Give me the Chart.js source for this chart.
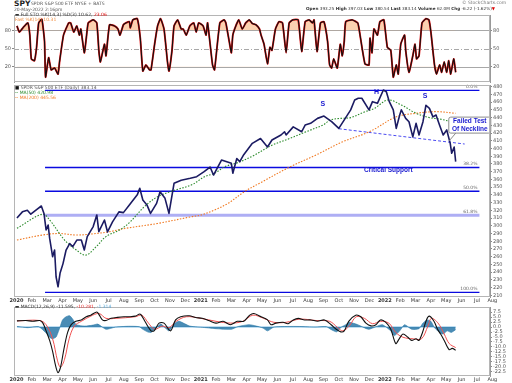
<!DOCTYPE html>
<html>
<head>
<meta charset="utf-8">
<script src="https://cdn.jsdelivr.net/npm/chart.js@4.4.0/dist/chart.umd.min.js"></script>
<style>
  body { margin: 0; background: #fff; }
  #wrap { position: relative; width: 512px; height: 383px; overflow: hidden; }
  canvas { position: absolute; left: 0; }
  .t { position: absolute; font-family: "DejaVu Sans", sans-serif; white-space: nowrap; line-height: 1; color: #555; font-size: 4.5px; }
</style>
</head>
<body>
<div id="wrap">
  <canvas id="stoch" width="512" height="75" style="top:11px"></canvas>
  <canvas id="price" width="512" height="224" style="top:80px"></canvas>
  <canvas id="macd" width="512" height="80" style="top:303px"></canvas>

  <div class="t" style="left:14px;top:0px;font-size:7.5px;font-weight:bold;color:#222">SPY</div>
  <div class="t" style="left:31px;top:2px">SPDR S&amp;P 500 ETF NYSE + BATS</div>
  <div class="t" style="left:14px;top:7.5px">20-May-2022 2:16pm</div>
  <div class="t" style="left:462px;top:1px;color:#777">© StockCharts.com</div>
  <div class="t" style="left:306px;top:7px;font-size:4.2px;color:#333"><b>Open</b> 393.25 <b>High</b> 397.03 <b>Low</b> 380.54 <b>Last</b> 383.14 <b>Volume</b> 62.0M <b>Chg</b> -6.22 (-1.62%)<span style="color:#d00">▼</span></div>
  <div class="t" style="left:15px;top:12.5px;color:#333">▬ Full STO %K(14,3) %D(3) 10.62, <span style="color:#e00000">23.06</span></div>
  <div class="t" style="left:15px;top:17.5px;color:#f08a3a">Fast %K(14) 10.31</div>
  <div class="t" style="left:15px;top:86px;color:#555"><span style="color:#111">■</span> SPDR S&amp;P 500 ETF (Daily) 383.14</div>
  <div class="t" style="left:15px;top:91px;color:#2a8a2a">-- MA(50) 420.98</div>
  <div class="t" style="left:15px;top:95.5px;color:#f07820">-- MA(200) 445.56</div>
  <div class="t" style="left:15px;top:304.5px;color:#333">▬ MACD(12,26,9) -11.595, <span style="color:#e83030">-10.281</span>, <span style="color:#5aa8d8">-1.314</span></div>
</div>

<script>
// ---- data ----
const xTickLabels = ["2020","Feb","Mar","Apr","May","Jun","Jul","Aug","Sep","Oct","Nov","Dec",
  "2021","Feb","Mar","Apr","May","Jun","Jul","Aug","Sep","Oct","Nov","Dec",
  "2022","Feb","Mar","Apr","May","Jun","Jul","Aug"];

const priceDates = ["2020-01-02","2020-01-13","2020-01-23","2020-01-30","2020-02-10","2020-02-19","2020-02-24","2020-02-28",
  "2020-03-03","2020-03-06","2020-03-12","2020-03-16","2020-03-19","2020-03-23","2020-03-27","2020-04-02","2020-04-08",
  "2020-04-15","2020-04-21","2020-04-29","2020-05-08","2020-05-14","2020-05-20","2020-06-01","2020-06-08","2020-06-12",
  "2020-06-23","2020-06-29","2020-07-09","2020-07-22","2020-07-31","2020-08-12","2020-08-28","2020-09-02","2020-09-08",
  "2020-09-16","2020-09-23","2020-10-05","2020-10-12","2020-10-22","2020-10-30","2020-11-09","2020-11-23","2020-12-11",
  "2020-12-24","2021-01-08","2021-01-20","2021-01-27","2021-02-11","2021-03-01","2021-03-04","2021-03-12","2021-03-18",
  "2021-03-26","2021-04-12","2021-04-28","2021-05-12","2021-05-21","2021-06-08","2021-06-15","2021-06-18","2021-07-02",
  "2021-07-19","2021-07-26","2021-08-06","2021-08-20","2021-09-02","2021-09-17","2021-10-01","2021-10-14","2021-10-25",
  "2021-11-02","2021-11-09","2021-11-16","2021-11-30","2021-12-07","2021-12-17","2021-12-29","2022-01-04","2022-01-10",
  "2022-01-18","2022-01-24","2022-01-31","2022-02-03","2022-02-11","2022-02-17","2022-02-24","2022-03-02","2022-03-08",
  "2022-03-16","2022-03-22","2022-03-29","2022-04-05","2022-04-11","2022-04-18","2022-04-25","2022-05-02","2022-05-09",
  "2022-05-12","2022-05-17","2022-05-20"];
const priceValues = [310,318,320,315,321,325.6,316,294.5,
  301,284,260,268.6,234,221,238.5,251,268.6,
  277,273,281.5,281.5,268.6,286,299,314,292.3,
  307.5,292,305,318,317,327,340,348.5,333.3,
  327,316,329,344,335.5,316,355,359,361.4,
  363.5,370,376,365.7,385,380.8,368,387,383,
  392,406.7,413,402,411,417.5,421.7,417.5,428,
  421.7,430.4,432.6,439,442,434.7,426,439,450,
  462.8,465,465,450,460.6,458.5,475.7,473.5,460.6,
  450,426,443.4,450,439,434.7,415,432.6,417.5,
  434.7,456,452,441,443.4,430,417.5,424,406.7,
  393.8,402,383];

const ma50Dates = ["2020-01-02","2020-02-21","2020-03-06","2020-04-05","2020-04-28","2020-05-17","2020-06-07","2020-06-26",
  "2020-07-23","2020-08-12","2020-09-11","2020-10-07","2020-11-10","2020-12-13","2021-01-09","2021-01-29","2021-02-17",
  "2021-03-15","2021-04-12","2021-05-22","2021-06-25","2021-07-28","2021-08-31","2021-09-15","2021-10-05","2021-10-25",
  "2021-11-20","2021-12-11","2022-01-07","2022-02-03","2022-03-02","2022-03-29","2022-04-21","2022-05-20"];
const ma50Values = [296.7,315,307.5,281.5,268.6,262,273,286,
  294.5,304,324.7,337.6,346,352.7,363.5,368,376.4,
  382,390,404.5,413,421.7,430.4,437,439,440,
  447,452,462.8,456.3,445.6,440,437.8,433];

const ma200Dates = ["2020-01-02","2020-02-21","2020-03-25","2020-04-28","2020-06-07","2020-07-03","2020-08-03","2020-10-07",
  "2020-12-13","2021-01-02","2021-01-29","2021-02-23","2021-03-27","2021-04-26","2021-06-25","2021-08-17","2021-10-09",
  "2021-12-01","2022-01-24","2022-03-02","2022-04-11","2022-05-20"];
const ma200Values = [281.5,288,290,288,290,292.3,296.5,303,
  311.7,314,320.4,329,344,355,376,391.6,408.8,
  421.7,441,445.6,447.7,445.6];

const fibLevels = [475.3, 375.4, 344.6, 313.7, 213.8];
const fibLabels = ["0.0%", "38.2%", "50.0%", "61.8%", "100.0%"];
const fibStart = "2020-02-26", fibEnd = "2022-07-06";

const necklineDates = ["2021-10-01", "2022-06-07"];
const necklineValues = [425.6, 405.8];

const priceTicks = [210,220,230,240,250,260,270,280,290,300,310,320,330,340,350,360,370,380,390,400,410,420,430,440,450,460,470,480];

const stochDates = ["2020-01-02","2020-01-07","2020-01-14","2020-01-24","2020-01-28","2020-01-31","2020-02-06","2020-02-10",
  "2020-02-14","2020-02-20","2020-02-25","2020-02-27","2020-03-04","2020-03-09","2020-03-16","2020-03-23","2020-03-26",
  "2020-04-03","2020-04-13","2020-04-17","2020-04-23","2020-04-29","2020-05-04","2020-05-07","2020-05-14","2020-05-18",
  "2020-05-22","2020-06-01","2020-06-08","2020-06-12","2020-06-15","2020-06-23","2020-06-26","2020-07-03","2020-07-13",
  "2020-07-20","2020-07-24","2020-07-31","2020-08-05","2020-08-12","2020-08-14","2020-08-19","2020-08-28","2020-09-03",
  "2020-09-08","2020-09-14","2020-09-21","2020-09-24","2020-10-01","2020-10-07","2020-10-13","2020-10-20","2020-10-27",
  "2020-10-30","2020-11-05","2020-11-09","2020-11-16","2020-11-23","2020-11-27","2020-12-03","2020-12-10","2020-12-18",
  "2020-12-23","2020-12-28","2021-01-06","2021-01-12","2021-01-15","2021-01-25","2021-01-29","2021-02-08","2021-02-16",
  "2021-02-19","2021-02-26","2021-03-01","2021-03-04","2021-03-10","2021-03-16","2021-03-23","2021-03-30","2021-04-06",
  "2021-04-12","2021-04-19","2021-04-26","2021-04-29","2021-05-05","2021-05-12","2021-05-17","2021-05-21","2021-05-28",
  "2021-06-04","2021-06-11","2021-06-18","2021-06-24","2021-07-01","2021-07-12","2021-07-19","2021-07-26","2021-08-03",
  "2021-08-10","2021-08-13","2021-08-19","2021-08-26","2021-09-02","2021-09-09","2021-09-13","2021-09-17","2021-09-21",
  "2021-09-28","2021-10-04","2021-10-08","2021-10-12","2021-10-15","2021-10-28","2021-11-08","2021-11-11","2021-11-22",
  "2021-11-30","2021-12-02","2021-12-06","2021-12-10","2021-12-17","2021-12-22","2021-12-30","2022-01-06","2022-01-13",
  "2022-01-18","2022-01-24","2022-01-28","2022-02-02","2022-02-09","2022-02-11","2022-02-17","2022-02-24","2022-02-28",
  "2022-03-03","2022-03-08","2022-03-14","2022-03-22","2022-03-28","2022-04-01","2022-04-08","2022-04-12","2022-04-18",
  "2022-04-22","2022-04-27","2022-05-02","2022-05-06","2022-05-10","2022-05-16","2022-05-20"];
const stochK = [87,77,84,92,72,33,30,52,
  92,98,62,3,35,15,18,8,28,
  72,92,92,77,87,72,82,43,67,
  92,97,92,47,28,57,38,89,87,
  82,72,89,92,94,84,97,99,67,
  13,23,15,15,57,87,99,82,28,
  13,47,87,97,82,82,72,87,92,
  77,92,87,72,92,23,15,92,97,
  92,57,43,72,87,97,82,92,97,
  91,89,82,72,57,25,52,47,82,
  94,92,43,92,97,97,45,94,97,
  92,97,45,92,94,62,23,18,33,
  18,57,38,62,94,97,92,80,25,
  23,67,43,82,72,94,97,52,47,
  3,23,8,57,72,47,11,38,57,
  33,38,92,99,97,77,23,8,23,
  11,28,11,30,8,33,11];
const stochTicks = [20, 50, 80];
const stochLevels = [80, 50, 20];

const macdDates = ["2020-01-02","2020-01-20","2020-02-03","2020-02-16","2020-02-22","2020-02-28","2020-03-06","2020-03-12",
  "2020-03-18","2020-03-23","2020-03-28","2020-04-04","2020-04-11","2020-04-18","2020-04-27","2020-05-08","2020-05-18",
  "2020-05-27","2020-06-08","2020-06-13","2020-06-19","2020-06-26","2020-07-06","2020-07-19","2020-08-01","2020-08-14",
  "2020-08-24","2020-09-03","2020-09-12","2020-09-24","2020-09-30","2020-10-10","2020-10-20","2020-11-02","2020-11-12",
  "2020-11-22","2020-12-09","2020-12-22","2021-01-04","2021-01-17","2021-02-01","2021-02-14","2021-02-27","2021-03-13",
  "2021-03-26","2021-04-07","2021-04-15","2021-04-29","2021-05-12","2021-05-19","2021-05-29","2021-06-12","2021-06-22",
  "2021-07-02","2021-07-12","2021-07-25","2021-08-07","2021-08-20","2021-09-03","2021-09-16","2021-09-26","2021-10-05",
  "2021-10-12","2021-10-21","2021-11-04","2021-11-14","2021-11-24","2021-12-04","2021-12-14","2021-12-23","2022-01-03",
  "2022-01-13","2022-01-23","2022-01-30","2022-02-06","2022-02-15","2022-02-22","2022-03-02","2022-03-08","2022-03-15",
  "2022-03-23","2022-03-29","2022-04-07","2022-04-14","2022-04-20","2022-04-27","2022-05-07","2022-05-13","2022-05-20"];
const macdLine = [3.1,3.3,2.9,3.3,2.0,-1.9,-6.7,-12.2,
  -19.4,-23,-20.2,-10.7,-2.7,1.2,2.9,3.6,5.2,
  6.0,7.6,6.0,3.6,3.3,4.4,4.9,5.2,5.2,
  5.5,6.5,2.9,-1.9,-1.9,2.0,2.0,-1.9,3.6,
  5.2,5.7,4.8,4.4,3.3,2.0,2.9,1.2,2.9,
  2.9,6.0,6.8,5.2,3.6,1.2,2.0,2.4,1.7,
  3.6,4.4,3.6,3.6,2.9,3.6,1.2,-1.1,-2.4,
  -1.9,2.9,6.0,5.2,2.0,0.6,1.2,3.6,2.4,
  -1.1,-8.3,-5.9,-3.5,-5.1,-6.7,-5.9,-6.7,-2.7,
  3.6,5.5,2.9,-1.1,-3.5,-6.7,-11.4,-10.7,-11.6];

const signalDates = ["2020-01-02","2020-02-16","2020-02-28","2020-03-12","2020-03-22","2020-03-28","2020-04-05","2020-04-14",
  "2020-04-24","2020-05-08","2020-05-31","2020-06-13","2020-06-26","2020-07-16","2020-08-24","2020-09-06","2020-09-19",
  "2020-10-01","2020-10-17","2020-10-30","2020-11-13","2020-12-03","2021-01-01","2021-02-01","2021-02-28","2021-03-24",
  "2021-04-13","2021-05-04","2021-05-25","2021-06-18","2021-07-15","2021-08-17","2021-09-13","2021-09-29","2021-10-09",
  "2021-10-22","2021-11-05","2021-11-21","2021-12-07","2021-12-23","2022-01-09","2022-01-23","2022-02-06","2022-02-25",
  "2022-03-13","2022-03-26","2022-04-02","2022-04-15","2022-04-27","2022-05-07","2022-05-20"];
const signalLine = [3.1,3.3,1.2,-5.9,-17,-20.2,-16.2,-5.9,
  0.5,2.9,6.0,6.8,4.4,4.4,5.2,6.0,2.0,
  -1.1,0.5,-0.3,2.9,5.2,4.4,2.9,2.0,2.9,
  6.0,4.4,2.4,2.4,4.0,3.3,2.9,-0.3,-1.9,
  0.5,5.2,4.4,1.7,2.9,2.0,-2.7,-5.1,-5.9,
  -5.9,0.5,4.4,2.0,-3.5,-8.3,-10.3];

const histDates = ["2020-01-02","2020-01-24","2020-02-14","2020-02-27","2020-03-06","2020-03-12","2020-03-19","2020-03-23",
  "2020-03-27","2020-04-01","2020-04-08","2020-04-15","2020-04-21","2020-04-28","2020-05-15","2020-06-01","2020-06-10",
  "2020-06-26","2020-07-15","2020-08-10","2020-09-01","2020-09-08","2020-09-17","2020-09-24","2020-10-08","2020-10-14",
  "2020-10-30","2020-11-09","2020-11-19","2020-12-10","2021-01-12","2021-02-01","2021-03-01","2021-03-15","2021-04-06",
  "2021-04-20","2021-05-03","2021-05-12","2021-05-25","2021-06-20","2021-07-15","2021-08-15","2021-09-07","2021-09-15",
  "2021-09-27","2021-10-06","2021-10-15","2021-10-22","2021-11-08","2021-11-29","2021-12-15","2021-12-27","2022-01-13",
  "2022-01-20","2022-01-31","2022-02-09","2022-02-22","2022-03-08","2022-03-16","2022-03-24","2022-04-01","2022-04-08",
  "2022-04-18","2022-04-25","2022-05-03","2022-05-11","2022-05-20"];
const histValues = [0.3,-0.3,0.2,-2.7,-5.1,-5.9,-5,-2.7,
  0,3.6,5.2,5.7,4,1.2,0.5,1,1.5,
  -1.1,0,0.4,0.2,-1.1,-2.4,-2.7,0.5,1.5,
  -1.9,1.7,2.9,0.5,-0.3,-0.8,-1.1,0.3,1.2,
  0.5,-0.5,-1.9,0,0.3,0.3,0,0.2,-1.1,
  -2.4,0,1.2,2.4,1.2,-1.1,0.3,1.2,-1.9,
  -4.3,-1.9,1.2,-1.1,-0.8,2,3.6,2.9,-0.3,
  -2.7,-3.5,-1.9,-2.7,-1.3];
const macdTicks = [7.5,5,2.5,0,-2.5,-5,-7.5,-10,-12.5,-15,-17.5,-20,-22.5];

const priceNotes = [
  { text: "S", date: "2021-08-31", value: 457 },
  { text: "H", date: "2021-12-15", value: 472.7 },
  { text: "S", date: "2022-03-20", value: 468.3 },
  { text: "Critical Support", date: "2022-01-08", value: 371.3 }
];
const callout = { lines: ["Failed Test", "Of Neckline"], date: "2022-06-17", value: 430.3, targetDate: "2022-05-07", targetValue: 410 };

// ---- helpers ----
const X_MIN = -0.16, X_MAX = 30.85;

function toMonths(s) {
  const [y, m, d] = s.split("-").map(Number);
  const dim = new Date(y, m, 0).getDate();
  return (y - 2020) * 12 + (m - 1) + (d - 1) / dim;
}
function series(dates, vals) {
  return dates.map((d, i) => ({ x: toMonths(d), y: vals[i] }));
}

const tickFont = { family: "DejaVu Sans", size: 5 };

function xAxis(show, h) {
  return {
    type: "linear", min: X_MIN, max: X_MAX, display: show,
    afterBuildTicks: ax => { ax.ticks = xTickLabels.map((_, i) => ({ value: i })); },
    afterFit: ax => { ax.height = h; },
    grid: { display: false, drawTicks: false },
    border: { display: false },
    ticks: {
      autoSkip: false, maxRotation: 0, padding: 1, color: "#333",
      font: ctx => ({ family: "DejaVu Sans", size: 5, weight: ctx.tick && ctx.tick.value % 12 === 0 ? "bold" : "normal" }),
      callback: v => xTickLabels[Math.round(v)]
    }
  };
}
function yAxis(pos, min, max, ticks, w, fmt) {
  return {
    position: pos, min: min, max: max,
    afterBuildTicks: ax => { ax.ticks = ticks.map(v => ({ value: v })); },
    afterFit: ax => { ax.width = w; },
    grid: { drawOnChartArea: false, tickLength: 2, color: "#888" },
    border: { display: true, color: "#999" },
    ticks: { autoSkip: false, font: tickFont, color: "#555", padding: 1, callback: fmt || (v => v) }
  };
}

const frame = {
  id: "frame",
  afterDraw(chart) {
    const a = chart.chartArea, c = chart.ctx;
    c.save();
    c.strokeStyle = "#b5b5b5";
    c.lineWidth = 1;
    c.strokeRect(a.left + 0.5, a.top + 0.5, a.right - a.left - 1, a.bottom - a.top - 1);
    c.restore();
  }
};

function baseOptions() {
  return {
    responsive: false, animation: false, events: [],
    layout: { autoPadding: false, padding: { left: 14, right: 0, top: 0, bottom: 0 } },
    elements: { point: { radius: 0 }, line: { borderJoinStyle: "round" } },
    plugins: { legend: { display: false }, tooltip: { enabled: false } }
  };
}

// ---- stochastic panel ----
const stochLevelsPlugin = {
  id: "levels",
  beforeDatasetsDraw(chart) {
    const c = chart.ctx, a = chart.chartArea, y = chart.scales.y;
    c.save();
    stochLevels.forEach(v => {
      const py = Math.round(y.getPixelForValue(v)) + 0.5;
      c.strokeStyle = "#a8a8a8";
      c.lineWidth = 1;
      c.setLineDash(v === 50 ? [5, 2, 1, 2] : []);
      c.beginPath(); c.moveTo(a.left, py); c.lineTo(a.right, py); c.stroke();
    });
    c.restore();
  }
};

const stochOpts = baseOptions();
stochOpts.layout.padding.left = 0;
stochOpts.scales = {
  x: xAxis(false, 0),
  y: yAxis("right", -5, 105, stochTicks, 22),
  yl: yAxis("left", -5, 105, stochTicks, 14)
};
new Chart(document.getElementById("stoch"), {
  type: "line",
  data: {
    datasets: [
      { data: series(stochDates, stochK), borderColor: "#111", borderWidth: 1.1, tension: 0.15 },
      { data: series(stochDates, stochK), borderColor: "#e01010", borderWidth: 1.9, tension: 0.15 },
      { data: series(stochDates, stochK), borderColor: "rgba(0,0,0,0)", borderWidth: 0, tension: 0.15,
        fill: { target: { value: 80 }, above: "rgba(248,165,100,0.5)", below: "rgba(0,0,0,0)" } },
      { data: series(stochDates, stochK), borderColor: "rgba(0,0,0,0)", borderWidth: 0, tension: 0.15,
        fill: { target: { value: 20 }, above: "rgba(0,0,0,0)", below: "rgba(248,165,100,0.5)" } }
    ]
  },
  options: stochOpts,
  plugins: [stochLevelsPlugin, frame]
});

// ---- price panel ----
const notesPlugin = {
  id: "notes",
  afterDatasetsDraw(chart) {
    const c = chart.ctx, x = chart.scales.x, y = chart.scales.y;
    c.save();
    // fib labels
    c.font = "4.5px 'DejaVu Sans'";
    c.fillStyle = "#666";
    c.textAlign = "right";
    c.textBaseline = "bottom";
    fibLevels.forEach((v, i) => {
      c.fillText(fibLabels[i], x.getPixelForValue(toMonths(fibEnd)) - 2, y.getPixelForValue(v) - 1);
    });
    // pattern notes
    c.fillStyle = "#1a1ad0";
    c.textAlign = "center";
    c.textBaseline = "middle";
    priceNotes.forEach(n => {
      c.font = "bold " + (n.text.length > 1 ? 6.5 : 7) + "px 'Liberation Sans'";
      c.fillText(n.text, x.getPixelForValue(toMonths(n.date)), y.getPixelForValue(n.value));
    });
    // callout box
    const cx = x.getPixelForValue(toMonths(callout.date)), cy = y.getPixelForValue(callout.value);
    const tx = x.getPixelForValue(toMonths(callout.targetDate)), ty = y.getPixelForValue(callout.targetValue);
    c.strokeStyle = "#8a8a8a";
    c.lineWidth = 1;
    c.beginPath(); c.moveTo(cx - 14, cy + 8); c.lineTo(tx, ty); c.stroke();
    c.fillStyle = "#fff";
    c.beginPath(); c.roundRect(cx - 21, cy - 8, 42, 16, 2); c.fill(); c.stroke();
    c.fillStyle = "#1a1ad0";
    c.font = "bold 6.5px 'Liberation Sans'";
    c.fillText(callout.lines[0], cx, cy - 3.5);
    c.fillText(callout.lines[1], cx, cy + 3.8);
    c.restore();
  }
};

const fibSets = fibLevels.map((v, i) => ({
  data: [{ x: toMonths(fibStart), y: v }, { x: toMonths(fibEnd), y: v }],
  borderColor: i === 3 ? "#aeaef4" : "#0a0ae0",
  borderWidth: i === 3 ? 3 : 1.4
}));

const priceOpts = baseOptions();
priceOpts.layout.padding.top = 5;
priceOpts.scales = {
  x: xAxis(true, 7),
  y: yAxis("right", 207.8, 482.2, priceTicks, 22)
};
new Chart(document.getElementById("price"), {
  type: "line",
  data: {
    datasets: [
      { data: series(priceDates, priceValues), borderColor: "#1b1b62", borderWidth: 1.6 },
      { data: series(ma50Dates, ma50Values), borderColor: "#2a8a2a", borderWidth: 1.1, borderDash: [1.5, 1.5], tension: 0.35 },
      { data: series(ma200Dates, ma200Values), borderColor: "#f07820", borderWidth: 1.1, borderDash: [1.5, 1.5], tension: 0.35 },
      { data: series(necklineDates, necklineValues), borderColor: "#4a4af0", borderWidth: 1, borderDash: [3, 2] },
      ...fibSets
    ]
  },
  options: priceOpts,
  plugins: [frame, notesPlugin]
});

// ---- MACD panel ----
const zeroLine = {
  id: "zero",
  beforeDatasetsDraw(chart) {
    const c = chart.ctx, x = chart.scales.x, py = chart.scales.y.getPixelForValue(0);
    c.save();
    c.strokeStyle = "#a9d2ec";
    c.lineWidth = 1.5;
    c.beginPath();
    c.moveTo(x.getPixelForValue(toMonths(histDates[0])), py);
    c.lineTo(x.getPixelForValue(toMonths(histDates[histDates.length - 1])), py);
    c.stroke();
    c.restore();
  }
};

const macdOpts = baseOptions();
macdOpts.scales = {
  x: xAxis(true, 7),
  y: yAxis("right", -24.6, 10.1, macdTicks, 22, v => v.toFixed(1))
};
new Chart(document.getElementById("macd"), {
  type: "line",
  data: {
    datasets: [
      { data: series(macdDates, macdLine), borderColor: "#111", borderWidth: 1.1, tension: 0.3 },
      { data: series(signalDates, signalLine), borderColor: "#f05050", borderWidth: 1, tension: 0.35 },
      { data: series(histDates, histValues), borderColor: "#2a78a8", borderWidth: 0.6, tension: 0.2,
        backgroundColor: "rgba(42,120,168,0.85)", fill: "origin" }
    ]
  },
  options: macdOpts,
  plugins: [zeroLine, frame]
});
</script>
</body>
</html>
